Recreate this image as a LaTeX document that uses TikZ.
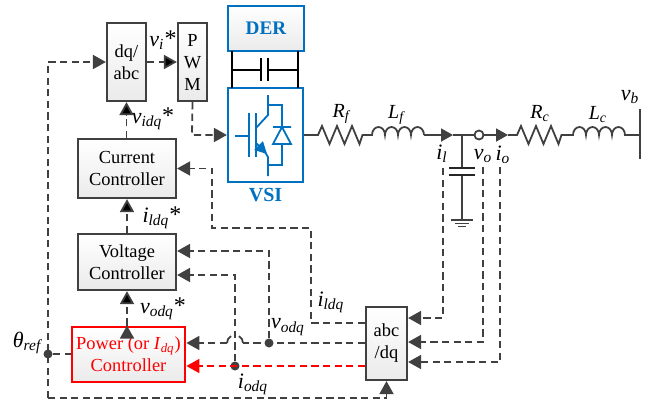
\documentclass[tikz,border=0pt]{standalone}
\usepackage{fontspec}
\setmainfont{Liberation Serif}
\usetikzlibrary{arrows.meta}
\definecolor{wiregray}{HTML}{404040}
\definecolor{derblue}{HTML}{0070C0}
\newcommand{\sublabel}[2]{\textit{#1}\textsubscript{\textit{#2}}}
\newcommand{\starlabel}[2]{\textit{#1}\textsubscript{\textit{#2}}{\large *}}
\begin{document}
\begin{tikzpicture}[x=0.5pt,y=-0.5pt,font=\fontsize{9.2}{11}\selectfont,
				main box/.style = {draw=wiregray,line width=1.1pt,top color=white,bottom color=black!8,inner sep=0pt,align=center},
				blue box/.style = {draw=derblue,line width=1.1pt,inner sep=0pt,align=center,text=derblue},
				flow/.style = {draw=wiregray,line width=0.9pt,dash pattern=on 3.6pt off 2.2pt},
				flow tip/.style = {flow,-{Triangle[length=6.5pt,width=7pt]}},
				wire/.style = {draw=wiregray,line width=0.9pt},
				igbt/.style = {draw=derblue,line width=0.9pt},
				dot/.style = {circle,fill=wiregray,inner sep=0pt,minimum size=4.5pt},
				sig/.style = {font=\fontsize{11}{13}\selectfont,inner sep=0pt}]

				\useasboundingbox (0,0) rectangle (655,403);

				% control blocks
				\node[main box,minimum width=19.5pt,minimum height=39pt] at (126.5,62) (dqabc) {dq/\\abc};
				\node[main box,minimum width=14.5pt,minimum height=39pt] at (192.5,62) (pwm) {P\\W\\M};
				\node[main box,minimum width=49pt,minimum height=29.5pt] at (127,168.5) (current) {Current\\Controller};
				\node[main box,minimum width=49pt,minimum height=28pt] at (127,262) (voltage) {Voltage\\Controller};
				\node[main box,draw=red,line width=1.4pt,text=red,minimum width=56.5pt,minimum height=27.5pt] at (128.5,354.5) (power) {Power (or \sublabel{I}{dq})\\Controller};
				\node[main box,minimum width=20.5pt,minimum height=36.5pt] at (386.5,343.5) (abcdq) {abc\\/dq};

				% converter
				\node[blue box,top color=white,bottom color=black!8,minimum width=38pt,minimum height=22.5pt,font=\fontsize{9.6}{12}\selectfont\bfseries] at (266,28.5) (der) {DER};
				\node[blue box,minimum width=37.5pt,minimum height=47pt] at (265.5,135) (vsi) {};
				\node[text=derblue,font=\fontsize{10}{12}\selectfont\bfseries,inner sep=0pt] at (265.5,195) (vsitext) {VSI};

				\draw[black,line width=1pt] (232,51) -- (232,88) (298,51) -- (298,88)
				(232,70) -- (261,70) (268,70) -- (298,70)
				(261,58) -- (261,81) (268,58) -- (268,81);

				\draw[igbt] (235,136) -- (249,136) (249,113) -- (249,157) (256,113) -- (256,157);
				\draw[igbt] (256,128) -- (268,115) -- (268,95) (268,105) -- (282,105) -- (282,127);
				\draw[igbt,-{Triangle[length=6pt,width=6pt]}] (256,143) -- (267,154);
				\draw[igbt] (265,152) -- (268,157) -- (268,176) (268,165) -- (282,165) -- (282,144);
				\draw[igbt] (273,144) -- (291,144) -- (282,127) -- cycle (273,127) -- (291,127);

				% power line
				\coordinate (rfa) at (318,135);
				\coordinate (lfa) at (372,135);
				\coordinate (junction) at (462,135);
				\coordinate (rca) at (517,135);
				\coordinate (lca) at (573,135);
				\coordinate (busmid) at (640,135);
				\coordinate (captop) at (462,168);
				\coordinate (capbot) at (462,175);
				\coordinate (gnd) at (462,220);

				\draw[wire] (vsi.east) -- (rfa) -- ++(4,-9) -- ++(7.5,18) -- ++(7.5,-18) -- ++(7.5,18) -- ++(7.5,-18) -- ++(7.5,18) -- ++(3,-9) -- (lfa)
				arc (180:360:6.5 and 8) arc (180:360:6.5 and 8) arc (180:360:6.5 and 8) arc (180:360:6.5 and 8);
				\draw[wire,-{Triangle[length=6pt,width=6.5pt]}] (424,135) -- (453,135);
				\draw[wire] (453,135) -- (junction);
				\draw[wire,-{Triangle[length=6pt,width=6.5pt]}] (junction) -- (508,135);
				\draw[wire] (508,135) -- (rca) -- ++(4,-9) -- ++(7.5,18) -- ++(7.5,-18) -- ++(7.5,18) -- ++(7.5,-18) -- ++(7.5,18) -- ++(3,-9) -- (lca)
				arc (180:360:6.5 and 8) arc (180:360:6.5 and 8) arc (180:360:6.5 and 8) arc (180:360:6.5 and 8) -- (busmid);
				\draw[wire,line width=1.1pt] (640,109) -- (640,159);
				\node[draw=wiregray,line width=0.9pt,fill=white,circle,inner sep=0pt,minimum size=4.5pt] at (479,135) (vonode) {};

				\draw[wire] (junction) -- (captop) (capbot) -- (gnd);
				\draw[black!85,line width=1.1pt] (449,168) -- (475,168) (449,175) -- (475,175);
				\draw[wire] (451,220) -- (473,220) (455,223.5) -- (469,223.5) (458,226.5) -- (466,226.5);

				% signals
				\coordinate (thetatop) at (48,62);
				\coordinate (thetabot) at (48,398);
				\node[dot] at (48,354) (thetadot) {};
				\node[dot] at (269,343) (vodqdot) {};
				\node[dot] at (235,366) (iodqdot) {};
				\coordinate (pwmdown) at (192,135);
				\coordinate (ilin) at (443,318);
				\coordinate (voin) at (483,342);
				\coordinate (ioin) at (500,362);
				\coordinate (ilup) at (443,168);
				\coordinate (voup) at (483,167);
				\coordinate (ioup) at (500,167);
				\coordinate (ildqa) at (311,323);
				\coordinate (ildqb) at (311,228);
				\coordinate (ildqc) at (212,228);
				\coordinate (ildqd) at (212,168.5);
				\coordinate (vodqup) at (269,251);
				\coordinate (iodqup) at (235,275);
				\coordinate (jumpa) at (243,343);
				\coordinate (jumpb) at (227,343);

				\draw[flow tip] (thetabot) -- (thetatop) -- (dqabc.west);
				\draw[flow tip] (thetabot) -- (abcdq.south |- thetabot) -- (abcdq.south);
				\draw[flow] (thetadot) -- (power.west |- thetadot);
				\path[flow tip]
				(dqabc.east) edge (pwm.west)
				(current.north -| dqabc.south) edge (dqabc.south)
				(voltage.north) edge (current.south)
				(power.north -| voltage.south) edge (voltage.south);
				\draw[flow tip] (pwm.south) -- (pwmdown) -- (vsi.west);
				\draw[flow tip] (ilup) -- (ilin) -- (ilin -| abcdq.east);
				\draw[flow tip] (voup) -- (voin) -- (voin -| abcdq.east);
				\draw[flow tip] (ioup) -- (ioin) -- (ioin -| abcdq.east);
				\draw[flow tip] (ildqa -| abcdq.west) -- (ildqa) -- (ildqb) -- (ildqc) -- (ildqd) -- (current.east);
				\draw[flow tip] (vodqdot) -- (vodqup) -- (vodqup -| voltage.east);
				\draw[flow tip] (iodqdot) -- (iodqup) -- (iodqup -| voltage.east);
				\draw[flow] (abcdq.west |- vodqdot) -- (jumpa);
				\draw[wire] (jumpa) arc (0:-60:8) (jumpb) arc (180:240:8);
				\draw[flow tip] (jumpb) -- (power.east |- vodqdot);
				\draw[flow tip,draw=red,color=red] (abcdq.west |- iodqdot) -- (power.east |- iodqdot);

				% labels
				\node[sig] at (163,40) (vilabel) {\starlabel{v}{i}};
				\node[sig] at (153,119) (vidqlabel) {\starlabel{v}{idq}};
				\node[sig] at (162,218) (ildqstar) {\starlabel{i}{ldq}};
				\node[sig] at (163,309) (vodqstar) {\starlabel{v}{odq}};
				\node[sig] at (28,343) (thetalabel) {\sublabel{θ}{ref}};
				\node[sig] at (288,327) (vodqlabel) {\sublabel{v}{odq}};
				\node[sig] at (253,384) (iodqlabel) {\sublabel{i}{odq}};
				\node[sig] at (331,302) (ildqlabel) {\sublabel{i}{ldq}};
				\node[sig,font=\fontsize{10}{12}\selectfont] at (342,114) (rflabel) {\sublabel{R}{f}};
				\node[sig,font=\fontsize{10}{12}\selectfont] at (397,115) (lflabel) {\sublabel{L}{f}};
				\node[sig,font=\fontsize{10}{12}\selectfont] at (540,114) (rclabel) {\sublabel{R}{c}};
				\node[sig,font=\fontsize{10}{12}\selectfont] at (598,115) (lclabel) {\sublabel{L}{c}};
				\node[sig] at (630,97) (vblabel) {\sublabel{v}{b}};
				\node[sig] at (442,154) (illabel) {\sublabel{i}{l}};
				\node[sig] at (483,156) (volabel) {\sublabel{v}{o}};
				\node[sig] at (503,155) (iolabel) {\sublabel{i}{o}};
\end{tikzpicture}
\end{document}
